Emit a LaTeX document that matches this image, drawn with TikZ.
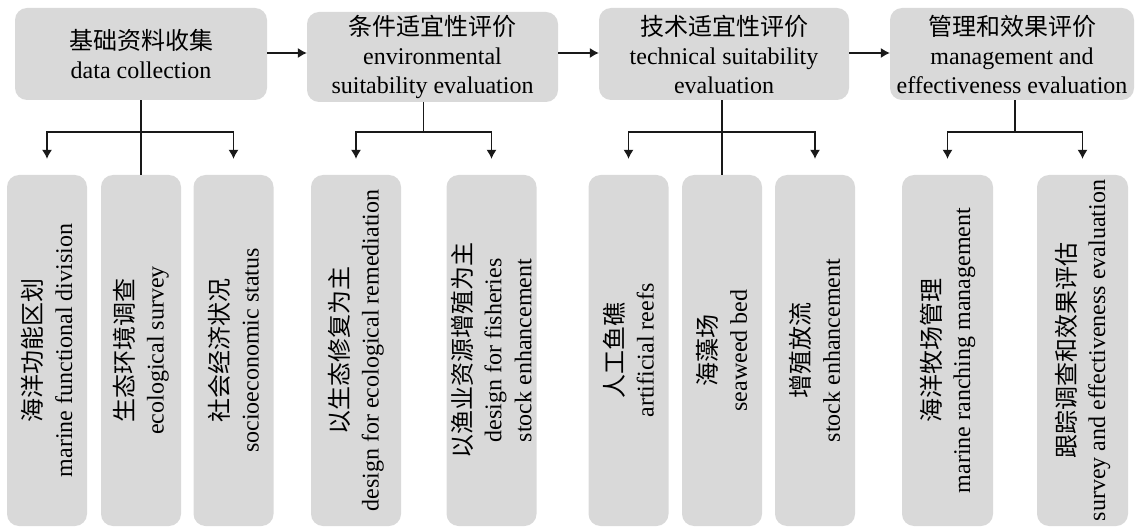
\documentclass[tikz,border=0pt]{standalone}
\usepackage{fontspec}
\setmainfont{Liberation Serif}
\newfontfamily\cjk{Noto Sans CJK SC}
\usetikzlibrary{calc}
\usetikzlibrary{arrows.meta}
\definecolor{boxgray}{RGB}{217,217,217}

\begin{document}
\begin{tikzpicture}[x=1pt,y=-1pt,
		stage/.style={rectangle,rounded corners=12pt,fill=boxgray,align=center,inner sep=0pt,font=\fontsize{24}{29}\selectfont},
		item/.style={rectangle,rounded corners=12pt,fill=boxgray,align=center,inner sep=0pt,rotate=90,minimum width=351pt,font=\fontsize{24}{30}\selectfont},
		link/.style={line width=1.1pt,black!90},
		arr/.style={line width=1.1pt,black!90,-{Latex[length=9pt,width=10pt]}}
		]
		\useasboundingbox (0,0) rectangle (1137,529);
		\node (t1) [stage,minimum width=252pt,minimum height=92pt] at (141,54) {{\cjk 基础资料收集}\\data collection};
		\node (t2) [stage,minimum width=251pt,minimum height=90pt] at (432.5,57) {{\cjk 条件适宜性评价}\\environmental\\suitability evaluation};
		\node (t3) [stage,minimum width=250pt,minimum height=92pt] at (724,54) {{\cjk 技术适宜性评价}\\technical suitability\\evaluation};
		\node (t4) [stage,minimum width=244pt,minimum height=92pt] at (1012,54) {{\cjk 管理和效果评价}\\management and\\effectiveness evaluation};
		
		\node (b1) [item,minimum height=80pt] at (47,350.5) {{\cjk 海洋功能区划}\\marine functional division};
		\node (b2) [item,minimum height=80pt] at (141,350.5) {{\cjk 生态环境调查}\\ecological survey};
		\node (b3) [item,minimum height=80pt] at (233.5,350.5) {{\cjk 社会经济状况}\\socioeconomic status};
		\node (b4) [item,minimum height=90pt] at (356,350.5) {{\cjk 以生态修复为主}\\design for ecological remediation};
		\node (b5) [item,minimum height=90pt] at (491.5,350.5) {{\cjk 以渔业资源增殖为主}\\design for fisheries\\stock enhancement};
		\node (b6) [item,minimum height=80pt] at (628.5,350.5) {{\cjk 人工鱼礁}\\artificial reefs};
		\node (b7) [item,minimum height=80pt] at (722,350.5) {{\cjk 海藻场}\\seaweed bed};
		\node (b8) [item,minimum height=80pt] at (815,350.5) {{\cjk 增殖放流}\\stock enhancement};
		\node (b9) [item,minimum height=91pt] at (947.5,350.5) {{\cjk 海洋牧场管理}\\marine ranching management};
		\node (b10) [item,minimum height=91pt] at (1082.5,350.5) {{\cjk 跟踪调查和效果评估}\\survey and effectiveness evaluation};
		
		\draw[arr] (t1.east |- 0,53) -- (t2.west |- 0,53);
		\draw[arr] (t2.east |- 0,53) -- (t3.west |- 0,53);
		\draw[arr] (t3.east |- 0,53) -- (t4.west |- 0,53);
		
		\coordinate (bar) at (0,132);
		\coordinate (m2) at ($(b4.east)!.5!(b5.east)$);
		\coordinate (m4) at ($(b9.east)!.5!(b10.east)$);
		
		\draw[link] (t1.south) -- (t1.south |- b2.east);
		\draw[arr] (t1.south |- bar) -| ($(b1.east)+(0,-16)$);
		\draw[arr] (t1.south |- bar) -| ($(b3.east)+(0,-16)$);
		
		\draw[link] (m2 |- t2.south) -- (m2 |- bar);
		\draw[arr] (m2 |- bar) -| ($(b4.east)+(0,-16)$);
		\draw[arr] (m2 |- bar) -| ($(b5.east)+(0,-16)$);
		
		\draw[link] (b7.east |- t3.south) -- (b7.east);
		\draw[arr] (b7.east |- bar) -| ($(b6.east)+(0,-16)$);
		\draw[arr] (b7.east |- bar) -| ($(b8.east)+(0,-16)$);
		
		\draw[link] (m4 |- t4.south) -- (m4 |- bar);
		\draw[arr] (m4 |- bar) -| ($(b9.east)+(0,-16)$);
		\draw[arr] (m4 |- bar) -| ($(b10.east)+(0,-16)$);
\end{tikzpicture}
\end{document}
